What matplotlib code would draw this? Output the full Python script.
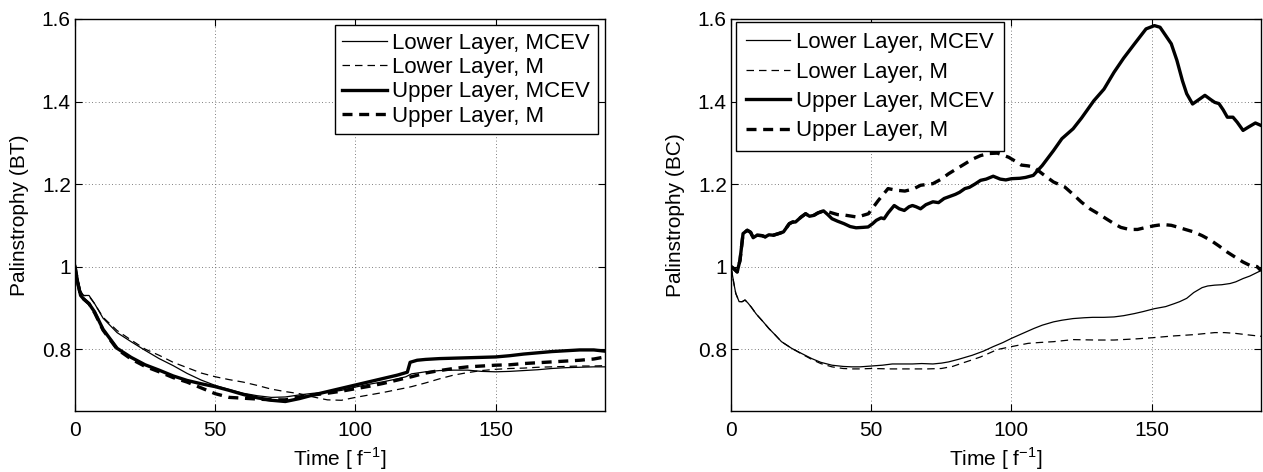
import numpy as np
import matplotlib
matplotlib.use('Agg')
import matplotlib.pyplot as plt

plt.rcParams['font.family'] = ['Liberation Sans', 'DejaVu Sans']
plt.rcParams['font.size'] = 15

# ---- Datos panel izquierdo (BT) ----
t_bt = [0, 1, 2, 3, 5, 7, 10, 15, 20, 25, 30, 35, 40, 45, 50, 55, 60, 65, 70, 75, 80,
        85, 90, 95, 100, 105, 110, 115, 118, 120, 125, 130, 135, 140, 145, 150, 155,
        160, 165, 170, 175, 180, 185, 189]
bt_lower_mcev = [1.0, 0.97, 0.94, 0.93, 0.93, 0.91, 0.875, 0.84, 0.818, 0.797, 0.777,
                 0.76, 0.741, 0.725, 0.712, 0.702, 0.693, 0.687, 0.683, 0.684, 0.689,
                 0.693, 0.695, 0.70, 0.708, 0.715, 0.721, 0.728, 0.733, 0.740, 0.745,
                 0.748, 0.749, 0.749, 0.746, 0.745, 0.746, 0.748, 0.750, 0.753, 0.755,
                 0.756, 0.757, 0.757]
bt_lower_m = [1.0, 0.97, 0.94, 0.93, 0.928, 0.91, 0.877, 0.845, 0.822, 0.80, 0.785,
              0.768, 0.755, 0.742, 0.733, 0.726, 0.72, 0.712, 0.703, 0.697, 0.692,
              0.684, 0.677, 0.676, 0.683, 0.689, 0.695, 0.702, 0.706, 0.709, 0.718,
              0.728, 0.737, 0.743, 0.748, 0.751, 0.753, 0.754, 0.756, 0.757, 0.758,
              0.759, 0.759, 0.760]
bt_upper_m = [1.0, 0.96, 0.93, 0.922, 0.91, 0.888, 0.846, 0.80, 0.776, 0.758, 0.745,
              0.731, 0.72, 0.706, 0.692, 0.683, 0.681, 0.679, 0.677, 0.677, 0.684,
              0.689, 0.693, 0.698, 0.704, 0.71, 0.717, 0.725, 0.73, 0.733, 0.742,
              0.748, 0.753, 0.757, 0.759, 0.761, 0.762, 0.765, 0.767, 0.769, 0.771,
              0.773, 0.776, 0.781]
t_bt_up = [0, 1, 2, 3, 5, 7, 10, 15, 20, 25, 30, 35, 40, 45, 50, 55, 60, 65, 70, 75, 80,
           85, 90, 95, 100, 105, 110, 115, 118.5, 119.5, 122, 125, 130, 135, 140, 145,
           150, 155, 160, 165, 170, 175, 180, 185, 189]
bt_upper_mcev = [1.0, 0.96, 0.93, 0.922, 0.91, 0.89, 0.848, 0.802, 0.78, 0.762, 0.749,
                 0.735, 0.724, 0.716, 0.709, 0.700, 0.690, 0.682, 0.676, 0.673, 0.680,
                 0.689, 0.697, 0.705, 0.713, 0.721, 0.729, 0.737, 0.744, 0.768, 0.773,
                 0.775, 0.777, 0.778, 0.779, 0.780, 0.781, 0.784, 0.788, 0.791, 0.794,
                 0.796, 0.798, 0.798, 0.795]

# ---- Datos panel derecho (BC) ----
t_bc_up = [0, 1, 2.2, 3.2, 4.3, 5.8, 7, 7.9, 9.3, 11, 12.2, 13.5, 15.1, 17, 18.7, 20.8,
           22, 23, 25, 26.6, 28, 29.5, 31, 33, 34.5, 36, 38, 40.3, 42.5, 44.6, 47, 48.9,
           50.5, 51.8, 53.5, 54.6, 56, 58.2, 60, 61.8, 63.5, 64.7, 66, 67.6, 69.5, 72,
           74, 76, 77.6, 80, 81.5, 83.4, 85, 87, 89, 91, 93.5, 96, 98, 100, 103, 105,
           107.8, 111, 115, 118, 122, 125, 129.4, 133, 136.6, 140, 143.8, 148, 151, 153,
           155, 157, 159, 161, 162.5, 164.6, 166.5, 169, 171, 172.5, 174, 175.5, 177,
           179, 180.5, 182.6, 184.5, 187, 189]
bc_upper_mcev = [1.0, 0.995, 0.987, 1.015, 1.08, 1.088, 1.083, 1.07, 1.076, 1.075, 1.072,
                 1.077, 1.076, 1.08, 1.084, 1.104, 1.108, 1.108, 1.12, 1.128, 1.122,
                 1.124, 1.13, 1.135, 1.126, 1.116, 1.11, 1.104, 1.097, 1.094, 1.095,
                 1.096, 1.104, 1.112, 1.118, 1.116, 1.13, 1.148, 1.14, 1.136, 1.145,
                 1.148, 1.145, 1.140, 1.15, 1.157, 1.155, 1.165, 1.169, 1.175, 1.18,
                 1.189, 1.192, 1.2, 1.209, 1.212, 1.219, 1.212, 1.21, 1.213, 1.214,
                 1.216, 1.221, 1.245, 1.281, 1.31, 1.334, 1.36, 1.402, 1.43, 1.471,
                 1.505, 1.539, 1.576, 1.584, 1.58, 1.56, 1.54, 1.50, 1.45, 1.419, 1.394,
                 1.403, 1.415, 1.405, 1.398, 1.395, 1.38, 1.362, 1.362, 1.35, 1.33,
                 1.338, 1.348, 1.342]
t_bc_upm = [0, 1, 2.2, 3.2, 4.3, 5.8, 7, 7.9, 9.3, 11, 12.2, 13.5, 15.1, 17, 18.7, 20.8,
            22, 23, 25, 26.6, 28, 29.5, 31, 33, 35, 38, 40.3, 45, 49, 52.5, 56, 59, 62,
            65, 67.6, 72, 75, 77.6, 80, 83.4, 86, 89, 92, 95, 99, 101.5, 103.5, 106,
            108, 111, 115, 119, 122, 125, 128, 131, 134, 136.6, 139, 142, 145, 148, 151,
            154, 157, 159.6, 162, 165, 168, 171, 174, 177, 180, 182.6, 185, 187.6, 189]
bc_upper_m = [1.0, 0.995, 0.987, 1.015, 1.08, 1.088, 1.083, 1.07, 1.076, 1.075, 1.072,
              1.077, 1.076, 1.08, 1.084, 1.104, 1.108, 1.108, 1.12, 1.128, 1.122, 1.124,
              1.13, 1.135, 1.132, 1.126, 1.125, 1.12, 1.128, 1.16, 1.189, 1.185, 1.183,
              1.188, 1.197, 1.201, 1.212, 1.225, 1.235, 1.249, 1.26, 1.269, 1.274,
              1.275, 1.265, 1.255, 1.246, 1.244, 1.241, 1.225, 1.205, 1.193, 1.175,
              1.156, 1.14, 1.128, 1.115, 1.104, 1.095, 1.09, 1.09, 1.095, 1.099, 1.102,
              1.1, 1.095, 1.09, 1.084, 1.075, 1.064, 1.05, 1.035, 1.022, 1.011, 1.003,
              1.0, 0.99]
t_bc_lo = [0, 1, 1.7, 2.9, 4, 5, 6, 7.2, 9, 11.5, 13.5, 15.8, 18, 21.6, 25, 28.8, 32, 36,
           40, 43, 46, 50, 54, 57.5, 61, 64.7, 68, 72, 75, 77.6, 81, 86, 90, 93.5, 97,
           100, 104, 108, 111, 115, 118, 122, 126, 129, 133, 136.6, 140, 143.8, 147, 151,
           155, 158, 160, 162.5, 165, 168, 170, 172.5, 175, 178, 180, 182.6, 185, 188, 189]
bc_lower_mcev = [1.0, 0.96, 0.935, 0.915, 0.915, 0.919, 0.912, 0.902, 0.885, 0.866,
                 0.85, 0.834, 0.818, 0.802, 0.79, 0.777, 0.768, 0.761, 0.758, 0.757,
                 0.757, 0.759, 0.761, 0.764, 0.764, 0.764, 0.765, 0.764, 0.766, 0.769,
                 0.775, 0.785, 0.795, 0.806, 0.816, 0.826, 0.838, 0.85, 0.858, 0.866,
                 0.870, 0.874, 0.876, 0.877, 0.877, 0.878, 0.881, 0.886, 0.891, 0.898,
                 0.903, 0.910, 0.915, 0.923, 0.937, 0.949, 0.953, 0.955, 0.956, 0.959,
                 0.963, 0.971, 0.977, 0.987, 0.99]
t_bc_lom = [0, 1, 1.7, 2.9, 4, 5, 6, 7.2, 9, 11.5, 13.5, 15.8, 18, 21.6, 25, 28.8, 32, 36,
            40, 43, 46, 50, 57, 64, 70, 75, 79, 82, 86, 89, 92, 95, 100, 106, 110, 115,
            122, 130, 136.6, 145, 151, 158, 165, 172.5, 176, 180, 185, 189]
bc_lower_m = [1.0, 0.96, 0.935, 0.915, 0.915, 0.919, 0.912, 0.902, 0.885, 0.866, 0.85,
              0.834, 0.818, 0.802, 0.789, 0.775, 0.765, 0.757, 0.753, 0.752, 0.752,
              0.753, 0.752, 0.752, 0.752, 0.753, 0.758, 0.765, 0.774, 0.781, 0.79,
              0.799, 0.806, 0.814, 0.816, 0.818, 0.823, 0.822, 0.822, 0.825, 0.828,
              0.832, 0.835, 0.840, 0.840, 0.838, 0.834, 0.831]

labels = ['Lower Layer, MCEV', 'Lower Layer, M', 'Upper Layer, MCEV', 'Upper Layer, M']
yticks = [0.8, 1, 1.2, 1.4, 1.6]
ytick_labels = ['0.8', '1', '1.2', '1.4', '1.6']

fig = plt.figure(figsize=(12.63, 4.72), dpi=100)
ax1 = fig.add_axes([75/1263, 61/472, 530/1263, 392/472])
ax2 = fig.add_axes([731/1263, 61/472, 530/1263, 392/472])


def estilo(ax, ylab):
    ax.set_xlim(0, 189)
    ax.set_ylim(0.65, 1.6)
    ax.set_xticks([0, 50, 100, 150])
    ax.set_yticks(yticks)
    ax.set_yticklabels(ytick_labels)
    ax.grid(True, linestyle=(0, (1, 3)), color='#555555', linewidth=0.6)
    ax.tick_params(direction='in', length=5, width=0.8, top=True, right=True,
                   labelsize=15)
    ax.tick_params(axis='x', pad=7)
    ax.tick_params(axis='y', pad=3)
    for s in ax.spines.values():
        s.set_linewidth(1.0)
    ax.set_xlabel(r'Time [ f$^{\mathregular{-1}}$]', fontsize=15, labelpad=4)
    ax.set_ylabel(ylab, fontsize=15, labelpad=9)


ax1.plot(t_bt, bt_lower_mcev, 'k-', lw=0.9, label=labels[0])
ax1.plot(t_bt, bt_lower_m, 'k', ls=(0, (6, 4)), lw=0.9, label=labels[1])
ax1.plot(t_bt_up, bt_upper_mcev, 'k-', lw=2.4, label=labels[2])
ax1.plot(t_bt, bt_upper_m, 'k', ls=(0, (3, 2)), lw=2.4, label=labels[3])
estilo(ax1, 'Palinstrophy (BT)')
leg1 = ax1.legend(loc='upper right', bbox_to_anchor=(0.987, 0.985), fancybox=False,
                  edgecolor='k', framealpha=1, fontsize=16, handlelength=2.0,
                  handletextpad=0.25, labelspacing=0.15, borderpad=0.35,
                  borderaxespad=0)
leg1.get_frame().set_linewidth(1.0)

ax2.plot(t_bc_lo, bc_lower_mcev, 'k-', lw=0.9, label=labels[0])
ax2.plot(t_bc_lom, bc_lower_m, 'k', ls=(0, (6, 4)), lw=0.9, label=labels[1])
ax2.plot(t_bc_up, bc_upper_mcev, 'k-', lw=2.4, label=labels[2])
ax2.plot(t_bc_upm, bc_upper_m, 'k', ls=(0, (3, 2)), lw=2.4, label=labels[3])
estilo(ax2, 'Palinstrophy (BC)')
leg2 = ax2.legend(loc='upper left', bbox_to_anchor=(0.0094, 0.992), fancybox=False,
                  edgecolor='k', framealpha=1, fontsize=16, handlelength=2.0,
                  handletextpad=0.25, labelspacing=0.38, borderpad=0.45,
                  borderaxespad=0)
leg2.get_frame().set_linewidth(1.0)

plt.savefig('out.png', dpi=100)
